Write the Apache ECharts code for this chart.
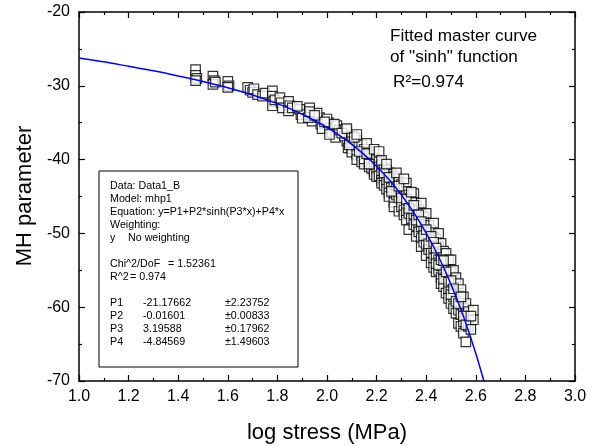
<!DOCTYPE html>
<html>
<head>
<meta charset="utf-8">
<script src="https://cdn.jsdelivr.net/npm/echarts@6/dist/echarts.min.js"></script>
<style>html,body{margin:0;padding:0;background:#fff}#c{width:597px;height:446px}</style>
</head>
<body>
<div id="c"></div>
<script>
// ---- data ----
const xTickLabels = ['1.0','1.2','1.4','1.6','1.8','2.0','2.2','2.4','2.6','2.8','3.0'];
const yTickLabels = ['-70','-60','-50','-40','-30','-20'];

// measured points (log stress, MH parameter)
const measX = [
1.47,1.47,1.475,1.47, 1.54,1.545,1.54,1.55, 1.60,1.605,1.60,
1.68,1.69,1.70,1.705, 1.72,1.74,1.75, 1.78,1.78,1.785,1.78,1.79,
1.81,1.815,1.82, 1.845,1.85,1.845,1.86, 1.89,1.895,1.88,1.90,
1.93,1.935,1.94,1.925, 1.97,1.975,1.96,1.98, 2.005,2.01,2.00,2.02,
2.04,2.045,2.035,2.05, 2.075,2.08,2.085,2.07,2.09,
2.10,2.10,2.10,2.10, 2.12,2.12,2.12,2.12, 2.14,2.14,2.14, 2.15,2.15,2.15,
2.17,2.17,2.17, 2.18,2.18, 2.19,2.19,2.19,2.19, 2.20,2.20,2.20,
2.21,2.21,2.21, 2.22,2.22,2.22,2.22, 2.23,2.23,2.23, 2.24,2.24,2.24,2.24,
2.25,2.25,2.25,2.25, 2.26,2.26,2.26, 2.27,2.27,2.27,2.27,2.27,
2.28,2.28,2.28, 2.29,2.29,2.29,2.29, 2.30,2.30,2.30,2.30,
2.31,2.31,2.31,2.31, 2.32,2.32,2.32,2.32,2.32, 2.33,2.33,2.33,2.33,
2.34,2.34,2.34, 2.35,2.35,2.35,2.35, 2.36,2.36,2.36,2.36,
2.37,2.37,2.37, 2.38,2.38,2.38,2.38,2.38, 2.39,2.39,2.39,
2.40,2.40,2.40,2.40,2.40, 2.41,2.41,2.41, 2.42,2.42,2.42,2.42,
2.43,2.43,2.43,2.43,2.43, 2.44,2.44,2.44, 2.45,2.45,2.45,2.45,
2.46,2.46,2.46,2.46,2.46, 2.47,2.47,2.47, 2.48,2.48,2.48,2.48,
2.49,2.49,2.49,2.49, 2.50,2.50,2.50,2.50, 2.51,2.51,2.51,2.51,
2.52,2.52,2.52, 2.53,2.53,2.53,2.53, 2.54,2.54,2.54,2.54,
2.55,2.55,2.55,2.55, 2.56,2.56,2.56, 2.57,2.57, 2.59,2.59,
1.93,1.95,1.99,2.01,2.03,2.06,2.08,2.09,2.11,2.12,2.13,2.16,2.16,2.17,2.19,2.21,2.22,2.23,
2.24,2.25,2.26,2.28,2.29,2.30,2.31,2.32,2.33,2.34,2.35,2.36,2.37,2.38,2.39,2.40,2.41,2.42,
2.43,2.44,2.44,2.45,2.46,2.47,2.47,2.48,2.49,2.50,2.50,2.51,2.52,2.53,2.54,2.55,2.56,2.58,2.58
];
const measY = [
-27.8,-28.6,-29.0,-29.3, -28.7,-29.3,-29.8,-29.5, -29.4,-30.0,-30.2,
-30.2,-30.6,-30.9,-30.4, -31.2,-31.4,-31.0, -30.7,-31.4,-32.1,-32.7,-31.9,
-31.6,-32.3,-33.0, -32.1,-32.7,-33.4,-33.0, -33.2,-33.9,-32.8,-34.4,
-33.0,-33.9,-34.8,-34.3, -34.3,-35.2,-33.7,-35.8, -35.0,-35.7,-34.5,-36.3,
-35.4,-36.3,-37.0,-36.0, -35.9,-37.5,-38.4,-36.8,-37.1,
-36.8,-37.6,-38.5,-39.0, -37.4,-38.2,-39.3,-40.0, -38.0,-39.5,-40.3, -38.6,-40.6,-39.9,
-39.0,-40.2,-41.0, -39.4,-41.2, -39.8,-40.5,-41.6,-42.0, -40.0,-41.3,-42.3,
-40.3,-41.0,-42.2, -40.7,-41.9,-42.8,-43.2, -41.2,-42.5,-43.5, -41.4,-42.0,-43.0,-44.0,
-41.8,-43.3,-44.5,-45.0, -42.0,-42.6,-43.8, -42.3,-43.0,-44.6,-45.8,-46.4,
-42.6,-43.5,-44.8, -43.0,-44.0,-45.2,-47.0, -43.4,-44.5,-45.8,-46.4,
-43.8,-45.0,-46.8,-47.5, -43.2,-44.3,-46.0,-47.2,-48.2, -44.8,-45.6,-47.3,-49.5,
-45.2,-46.4,-48.0, -44.6,-45.8,-47.4,-48.8, -46.2,-47.0,-49.0,-50.4,
-46.8,-48.6,-49.8, -45.9,-47.3,-49.1,-50.6,-51.8, -47.8,-49.6,-51.2,
-47.3,-48.6,-50.2,-51.5,-53.0, -48.9,-50.4,-52.2, -49.6,-51.0,-52.6,-54.0,
-48.6,-50.5,-52.0,-53.4,-54.6, -50.8,-53.0,-55.2, -50.0,-51.8,-53.6,-55.0,
-51.35,-52.8,-54.4,-56.0,-56.8, -52.4,-55.0,-57.2, -52.7,-54.2,-56.0,-58.1,
-53.6,-55.4,-57.5,-58.8, -53.6,-55.2,-57.4,-59.5, -55.0,-56.6,-58.6,-60.2,
-56.0,-57.8,-60.8, -56.8,-58.4,-60.4,-62.2, -57.6,-59.6,-61.0,-62.6,
-58.6,-60.2,-62.0,-63.5, -59.5,-61.0,-64.7, -60.6,-62.6, -61.7,-60.4,
-33.5,-34.0,-34.9,-36.6,-35.2,-36.4,-35.8,-38.0,-37.0,-36.6,-38.9,-37.8,-39.2,-40.6,-38.6,-38.9,-40.1,-41.8,
-40.6,-42.4,-44.3,-41.8,-43.6,-45.2,-42.6,-45.4,-46.6,-44.4,-46.2,-48.2,-47.5,-48.4,-50.3,-49.5,-51.4,-50.4,
-51.2,-52.0,-54.1,-54.3,-53.6,-53.7,-56.2,-55.2,-56.6,-58.3,-56.4,-57.5,-59.2,-59.5,-58.6,-61.2,-62.4,-61.2,-63.0
];

// fitted master curve
const fitX = [1.0,1.1,1.2,1.3,1.4,1.5,1.6,1.7,1.8,1.85,1.9,1.95,2.0,2.05,2.1,2.15,2.2,2.25,2.3,2.35,2.4,2.45,2.5,2.55,2.6,2.63,2.64];
const fitY = [-26.22,-26.75,-27.36,-27.97,-28.66,-29.41,-30.26,-31.25,-32.42,-33.10,-33.85,-34.70,-35.64,-36.72,-37.93,-39.32,-40.89,-42.70,-44.79,-47.18,-49.96,-53.17,-56.91,-61.24,-66.28,-69.70,-70.91];

const boxLines = [
  ['Data: Data1_B','',''],
  ['Model: mhp1','',''],
  ['Equation: y=P1+P2*sinh(P3*x)+P4*x','',''],
  ['Weighting:','',''],
  ['y','No weighting',''],
  ['','',''],
  ['Chi^2/DoF','= 1.52361',''],
  ['R^2','= 0.974',''],
  ['','',''],
  ['P1','-21.17662','\u00b12.23752'],
  ['P2','-0.01601','\u00b10.00833'],
  ['P3','3.19588','\u00b10.17962'],
  ['P4','-4.84569','\u00b11.49603']
];

// ---- chart ----
const FONT = 'Liberation Sans, Arial, sans-serif';
const chart = echarts.init(document.getElementById('c'), null, {renderer:'canvas'});

const scatterData = measX.map((x,i)=>[x, measY[i]]);
const fitData = fitX.map((x,i)=>[x, fitY[i]]);

function axisBase(extra){
  return Object.assign({
    axisLine:{show:true, onZero:false, lineStyle:{color:'#000', width:1.5}},
    axisTick:{show:true, inside:true, length:6, lineStyle:{color:'#000', width:1.2}},
    minorTick:{show:true, splitNumber:2, length:3, lineStyle:{color:'#000', width:1.2}},
    splitLine:{show:false}
  }, extra);
}

const graphics = [];
// box
const bx = 99, by = 171, bw = 199, bh = 196;
graphics.push({type:'rect', shape:{x:bx, y:by, width:bw, height:bh}, style:{fill:'#fff', stroke:'#000', lineWidth:1}, z:10});
const lh = 12.95, ty0 = 186.5;
const BF = '10.7px ' + FONT;
boxLines.forEach((row,i)=>{
  const y = ty0 + i*lh;
  let c1x = 128;
  if (row[0].startsWith('Chi')) c1x = 168;
  if (row[0].startsWith('R^')) c1x = 130;
  if (row[0].startsWith('P')) c1x = 143;
  if (row[0]) graphics.push({type:'text', x:110, y:y, z:11, style:{text:row[0], font:BF, fill:'#000', textVerticalAlign:'middle'}});
  if (row[1]) graphics.push({type:'text', x:c1x, y:y, z:11, style:{text:row[1], font:BF, fill:'#000', textVerticalAlign:'middle'}});
  if (row[2]) graphics.push({type:'text', x:225, y:y, z:11, style:{text:row[2], font:BF, fill:'#000', textVerticalAlign:'middle'}});
});
// annotation
const AF = '17.2px ' + FONT;
graphics.push({type:'text', x:390, y:36, z:11, style:{text:'Fitted master curve', font:AF, fill:'#000', textVerticalAlign:'middle'}});
graphics.push({type:'text', x:390, y:57, z:11, style:{text:'of "sinh" function', font:AF, fill:'#000', textVerticalAlign:'middle'}});
graphics.push({type:'text', x:393, y:82, z:11, style:{text:'R\u00b2=0.974', font:AF, fill:'#000', textVerticalAlign:'middle'}});
// axis titles
graphics.push({type:'text', x:25, y:196, rotation:Math.PI/2, z:11, style:{text:'MH parameter', font:'22px '+FONT, fill:'#000', textAlign:'center', textVerticalAlign:'middle'}});
graphics.push({type:'text', x:327, y:433, z:11, style:{text:'log stress (MPa)', font:'22px '+FONT, fill:'#000', textAlign:'center', textVerticalAlign:'middle'}});

chart.setOption({
  animation:false,
  backgroundColor:'#fff',
  grid:{left:79, right:22, top:12, bottom:65, containLabel:false},
  xAxis:[
    axisBase({type:'value', min:1.0, max:3.0, interval:0.2, position:'bottom',
      axisLabel:{show:true, margin:8, fontSize:16, fontFamily:FONT, color:'#000',
        formatter:(v)=>{const i=Math.round((v-1.0)/0.2); return xTickLabels[i]!==undefined?xTickLabels[i]:'';}}}),
    axisBase({type:'value', min:1.0, max:3.0, interval:0.2, position:'top', axisLabel:{show:false}})
  ],
  yAxis:[
    axisBase({type:'value', min:-70, max:-20, interval:10, position:'left',
      axisLabel:{show:true, margin:9, fontSize:16, fontFamily:FONT, color:'#000',
        formatter:(v)=>{const i=Math.round((v+70)/10); return yTickLabels[i]!==undefined?yTickLabels[i]:'';}}}),
    axisBase({type:'value', min:-70, max:-20, interval:10, position:'right', axisLabel:{show:false}})
  ],
  series:[
    {type:'scatter', xAxisIndex:0, yAxisIndex:0, data:scatterData, symbol:'rect', symbolSize:9.5,
      itemStyle:{color:'#fff', borderColor:'#000', borderWidth:1.2}, z:2, silent:true},
    {type:'line', xAxisIndex:0, yAxisIndex:0, data:fitData, smooth:0.3, showSymbol:false, clip:true,
      lineStyle:{color:'#0000ff', width:1.5}, z:3, silent:true}
  ],
  graphic:graphics
});
</script>
</body>
</html>
